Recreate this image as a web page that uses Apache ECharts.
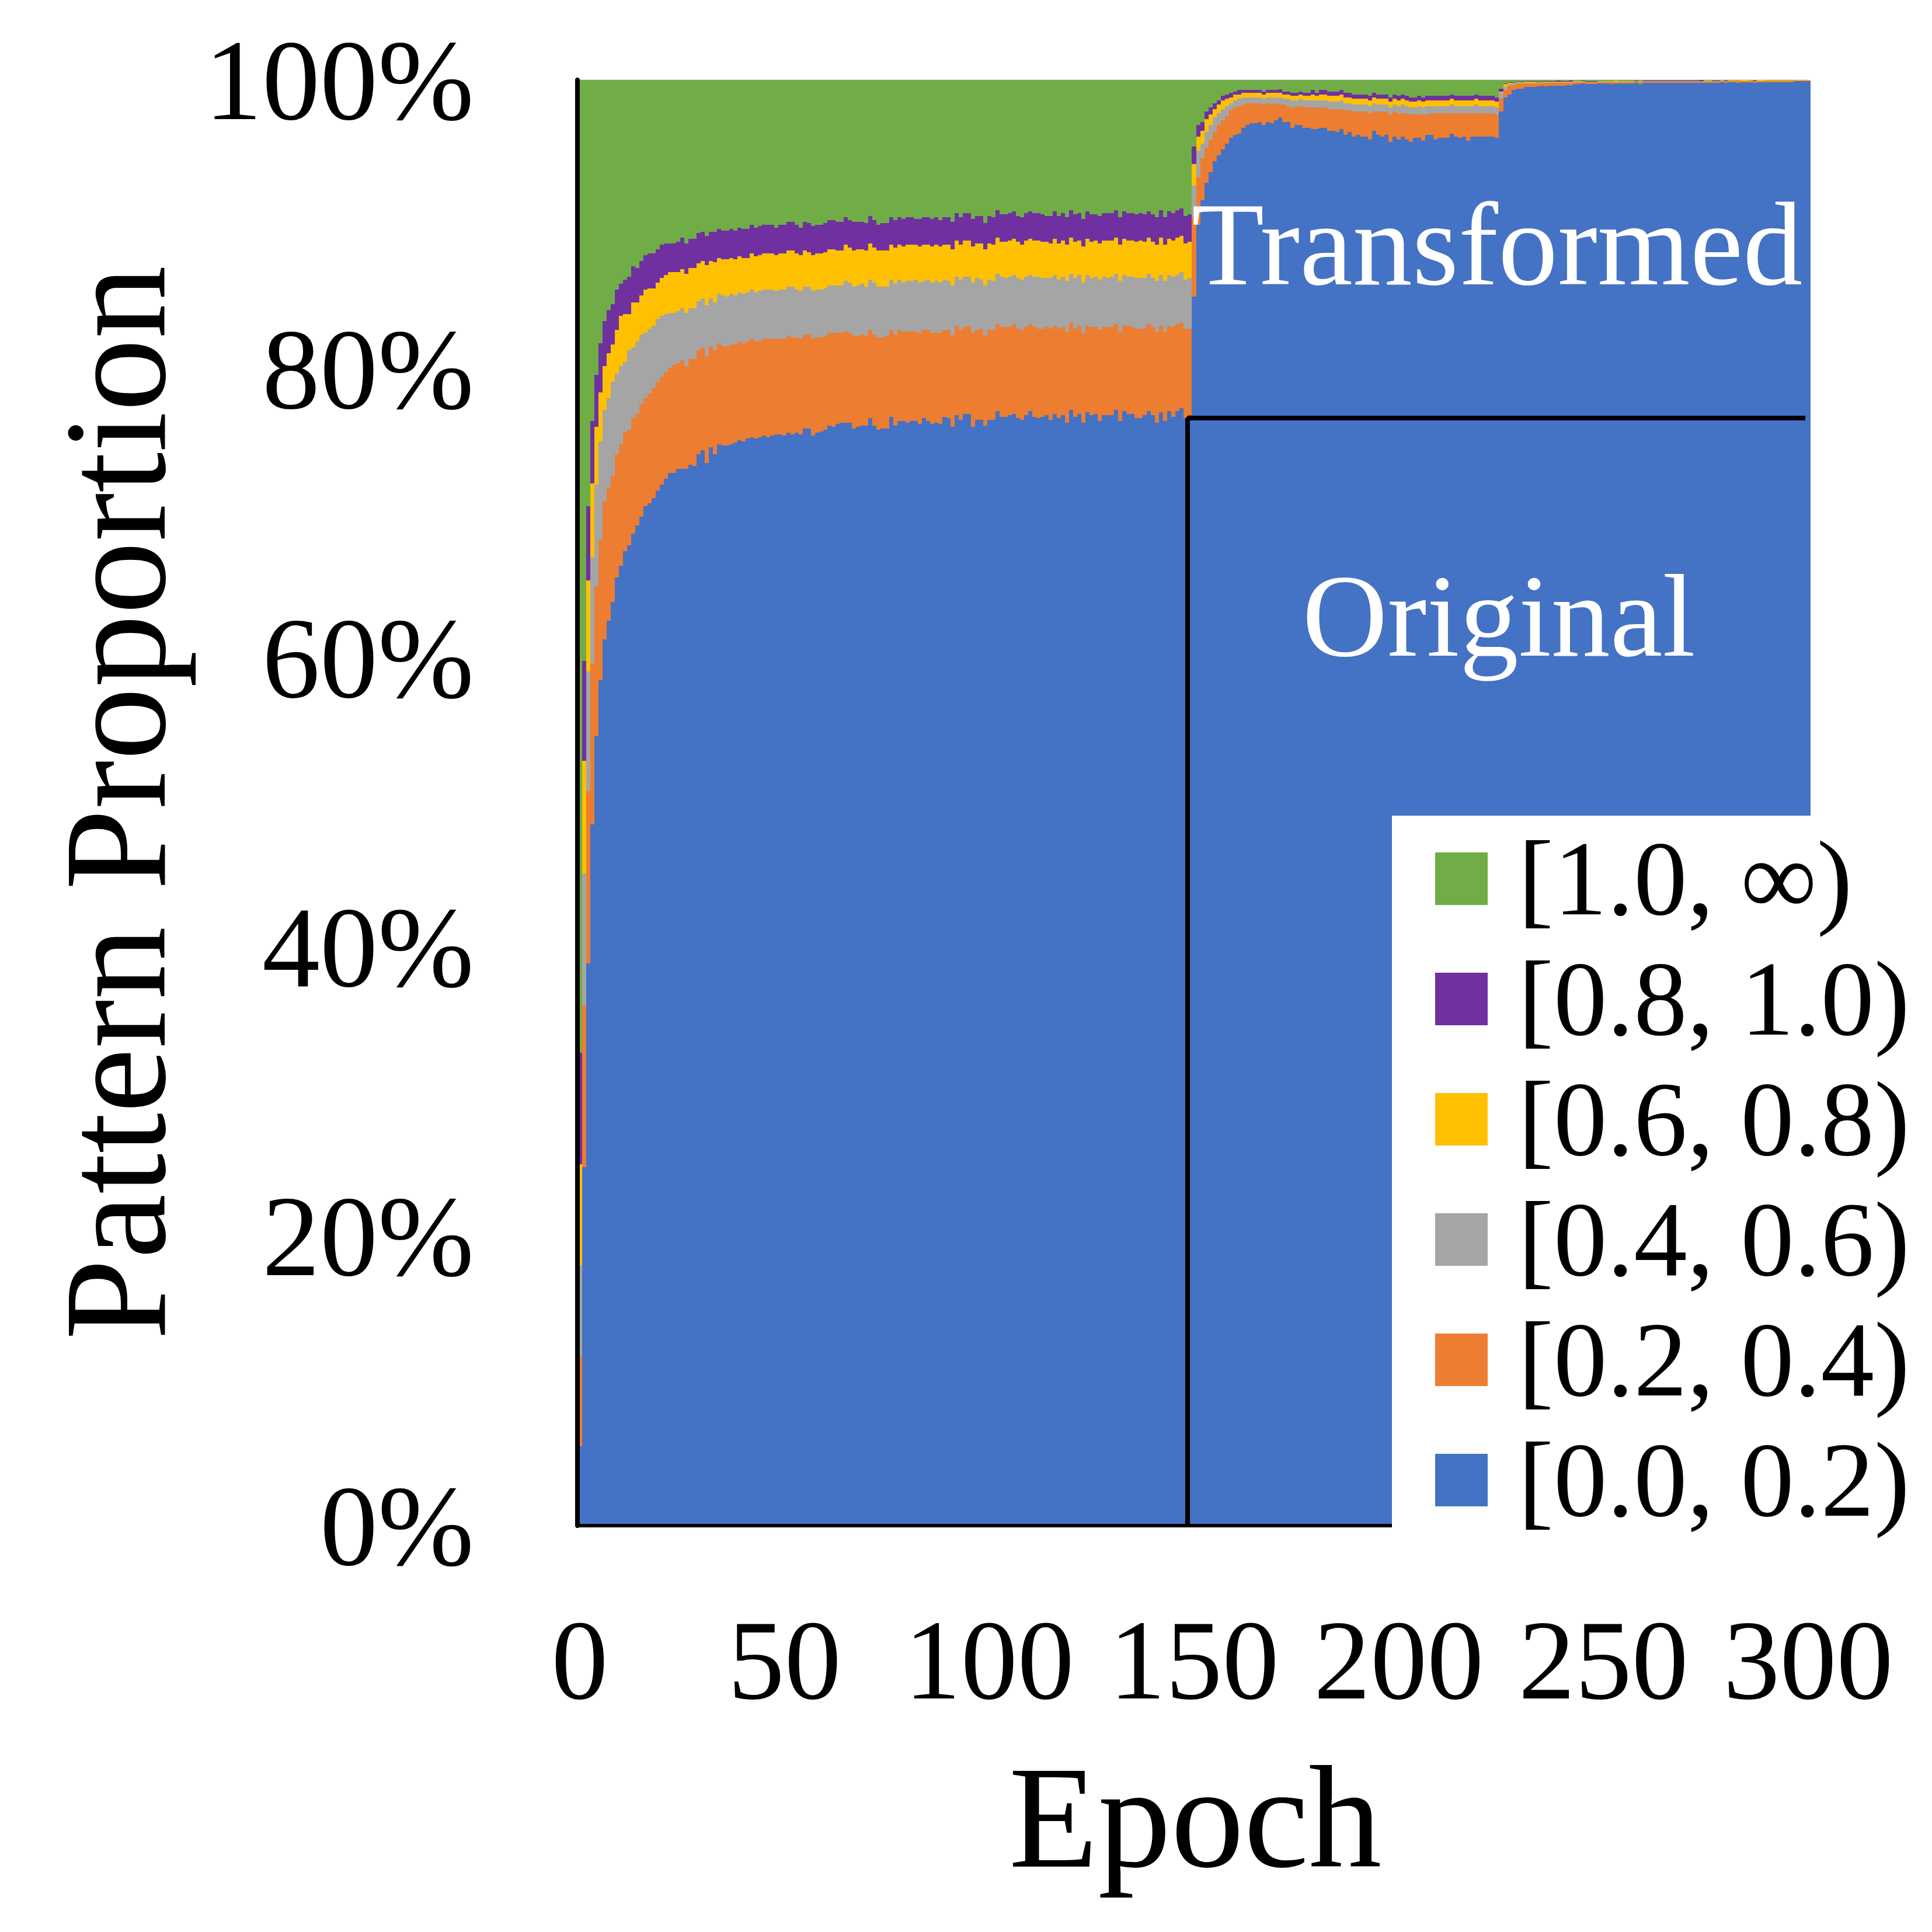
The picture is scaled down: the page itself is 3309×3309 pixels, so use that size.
<!DOCTYPE html>
<html>
<head>
<meta charset="utf-8">
<title>Pattern Proportion</title>
<script src="https://cdn.jsdelivr.net/npm/echarts@6/dist/echarts.min.js"></script>
<style>
  html, body { margin: 0; padding: 0; background: #fff; }
  #chart { width: 3309px; height: 3309px; }
  #chart svg path { shape-rendering: crispEdges; }
</style>
</head>
<body>
<div id="chart"></div>
<script>
// share of patterns in each bin (%) for epochs 0..300
const binNames = ["[0.0, 0.2)", "[0.2, 0.4)", "[0.4, 0.6)", "[0.6, 0.8)", "[0.8, 1.0)", "[1.0, \u221e)"];
const binColors = ["#4472C4", "#ED7D31", "#A5A5A5", "#FFC000", "#7030A0", "#70AD47"];

const epochs = Array.from({ length: 301 }, (_, i) => i);
const xTicks = [0, 50, 100, 150, 200, 250, 300];
const yTicks = [0, 20, 40, 60, 80, 100];

const bin00 = [
  5.5, 24.8, 38.9, 48.5, 54.6, 58.5, 61.3, 62.6, 63.9, 65.6,
  66.4, 67.4, 67.8, 68.6, 69.2, 69.8, 70.5, 70.7, 71.1, 71.6,
  72.0, 72.4, 72.8, 72.8, 73.1, 73.1, 73.1, 73.4, 73.3, 74.1,
  74.4, 73.5, 74.6, 74.1, 74.8, 74.7, 74.7, 74.8, 74.9, 75.1,
  75.0, 75.2, 75.3, 75.2, 75.3, 75.4, 75.3, 75.4, 75.5, 75.5,
  75.4, 75.6, 75.5, 75.6, 75.5, 75.9, 75.9, 75.4, 75.6, 75.7,
  75.8, 76.1, 76.0, 76.2, 76.3, 76.3, 76.3, 75.9, 76.0, 76.1,
  76.1, 76.6, 76.1, 75.8, 75.9, 75.9, 76.7, 76.1, 76.4, 76.4,
  76.3, 76.4, 76.4, 76.2, 76.6, 76.4, 76.2, 76.3, 76.2, 76.7,
  76.6, 76.0, 76.8, 76.5, 76.9, 76.9, 76.0, 76.5, 76.5, 76.1,
  76.5, 76.5, 77.1, 76.7, 76.7, 76.8, 76.9, 76.6, 76.5, 76.8,
  77.1, 76.7, 76.6, 76.7, 76.8, 76.5, 76.9, 76.6, 76.8, 76.3,
  77.2, 76.7, 76.9, 76.3, 77.0, 76.8, 76.9, 76.4, 76.8, 76.8,
  76.8, 77.2, 76.4, 77.1, 76.9, 76.9, 76.6, 76.6, 76.8, 77.1,
  76.8, 76.3, 77.0, 76.4, 77.1, 76.7, 77.1, 77.3, 76.6, 76.8,
  85.0, 90.0, 91.7, 92.9, 93.6, 94.4, 94.8, 95.2, 95.6, 96.0,
  96.2, 96.3, 96.7, 96.9, 97.0, 97.0, 97.1, 96.9, 97.1, 97.0,
  97.2, 97.4, 97.1, 97.1, 96.7, 96.9, 96.9, 96.7, 96.7, 96.6,
  96.6, 96.7, 96.7, 96.5, 96.5, 96.4, 96.6, 96.2, 96.4, 96.1,
  96.2, 96.1, 96.1, 95.9, 96.5, 96.2, 96.1, 96.2, 95.7, 96.1,
  95.9, 96.1, 95.9, 95.7, 96.0, 96.0, 95.8, 96.2, 96.2, 95.9,
  96.0, 96.0, 96.0, 96.3, 96.1, 96.0, 96.1, 95.8, 96.1, 96.1,
  96.1, 96.1, 96.1, 96.1, 96.0, 97.8, 98.8, 99.0, 99.3, 99.4,
  99.4, 99.5, 99.5, 99.5, 99.55, 99.6, 99.55, 99.6, 99.6, 99.6,
  99.6, 99.65, 99.65, 99.7, 99.7, 99.75, 99.7, 99.7, 99.7, 99.75,
  99.75, 99.75, 99.7, 99.75, 99.75, 99.75, 99.75, 99.75, 99.8, 99.7,
  99.8, 99.8, 99.8, 99.8, 99.8, 99.8, 99.8, 99.8, 99.8, 99.8,
  99.8, 99.8, 99.8, 99.8, 99.8, 99.8, 99.8, 99.8, 99.8, 99.85,
  99.8, 99.85, 99.85, 99.8, 99.85, 99.85, 99.85, 99.8, 99.85, 99.85,
  99.85, 99.85, 99.85, 99.85, 99.85, 99.85, 99.85, 99.9, 99.9, 99.9,
  99.9
];

const bin02 = [
  6.2, 11.2, 11.9, 11.1, 10.4, 9.7, 9.6, 9.2, 8.7, 8.5,
  8.4, 8.2, 8.0, 8.0, 7.7, 7.8, 7.5, 7.6, 7.6, 7.5,
  7.5, 7.4, 7.3, 7.5, 7.3, 7.5, 7.1, 7.3, 7.4, 7.2,
  7.1, 7.4, 7.0, 7.2, 7.0, 6.9, 6.9, 6.9, 6.8, 6.8,
  6.8, 6.7, 6.8, 6.7, 6.7, 6.7, 6.8, 6.7, 6.6, 6.6,
  6.7, 6.7, 6.7, 6.6, 6.6, 6.5, 6.5, 6.7, 6.6, 6.5,
  6.5, 6.4, 6.5, 6.3, 6.2, 6.3, 6.2, 6.4, 6.3, 6.3,
  6.2, 6.1, 6.3, 6.4, 6.3, 6.4, 6.0, 6.3, 6.3, 6.2,
  6.3, 6.2, 6.2, 6.3, 6.1, 6.3, 6.3, 6.2, 6.3, 6.0,
  6.1, 6.3, 6.2, 6.2, 6.0, 6.1, 6.5, 6.2, 6.3, 6.2,
  6.2, 6.2, 6.0, 6.2, 6.2, 6.1, 6.2, 6.2, 6.2, 6.1,
  6.0, 6.2, 6.2, 6.1, 6.1, 6.3, 6.1, 6.2, 6.1, 6.3,
  6.0, 6.1, 6.1, 6.2, 6.0, 6.1, 6.0, 6.3, 6.1, 6.1,
  6.1, 5.9, 6.2, 5.9, 6.1, 6.0, 6.2, 6.2, 6.0, 6.0,
  6.1, 6.3, 6.0, 6.2, 5.9, 6.2, 6.0, 5.9, 6.2, 6.0,
  5.5, 3.3, 2.9, 2.4, 2.3, 2.0, 2.1, 2.0, 1.9, 1.9,
  1.9, 1.9, 1.6, 1.5, 1.4, 1.4, 1.3, 1.4, 1.3, 1.3,
  1.2, 0.9, 1.2, 1.1, 1.4, 1.3, 1.3, 1.4, 1.4, 1.5,
  1.5, 1.4, 1.4, 1.5, 1.5, 1.6, 1.4, 1.7, 1.5, 1.7,
  1.6, 1.7, 1.7, 1.8, 1.3, 1.6, 1.7, 1.6, 1.9, 1.7,
  1.8, 1.6, 1.8, 1.9, 1.6, 1.6, 1.8, 1.4, 1.5, 1.8,
  1.7, 1.7, 1.7, 1.4, 1.6, 1.7, 1.6, 1.9, 1.6, 1.6,
  1.6, 1.6, 1.6, 1.6, 1.6, 0.9, 0.5, 0.6, 0.35, 0.35,
  0.3, 0.25, 0.25, 0.25, 0.2, 0.2, 0.25, 0.2, 0.2, 0.2,
  0.2, 0.15, 0.15, 0.12, 0.12, 0.1, 0.12, 0.12, 0.12, 0.1,
  0.1, 0.1, 0.12, 0.1, 0.1, 0.1, 0.1, 0.1, 0.08, 0.15,
  0.08, 0.08, 0.08, 0.08, 0.08, 0.08, 0.08, 0.08, 0.08, 0.08,
  0.08, 0.08, 0.08, 0.08, 0.08, 0.08, 0.08, 0.08, 0.08, 0.06,
  0.08, 0.06, 0.06, 0.1, 0.06, 0.06, 0.06, 0.08, 0.06, 0.06,
  0.06, 0.06, 0.06, 0.06, 0.06, 0.06, 0.06, 0.04, 0.04, 0.04,
  0.04
];

const bin04 = [
  6.3, 9.1, 8.3, 7.4, 7.0, 6.8, 6.3, 6.2, 6.5, 5.6,
  5.4, 4.9, 5.5, 4.9, 5.0, 4.8, 4.5, 4.5, 4.3, 4.4,
  4.2, 4.0, 3.8, 3.6, 3.6, 3.6, 3.7, 3.5, 3.5, 3.4,
  3.4, 3.5, 3.3, 3.3, 3.4, 3.5, 3.4, 3.5, 3.4, 3.4,
  3.4, 3.4, 3.4, 3.4, 3.4, 3.4, 3.4, 3.4, 3.3, 3.4,
  3.4, 3.4, 3.5, 3.3, 3.3, 3.3, 3.3, 3.3, 3.3, 3.3,
  3.3, 3.3, 3.3, 3.3, 3.3, 3.5, 3.5, 3.4, 3.5, 3.5,
  3.4, 3.5, 3.6, 3.5, 3.5, 3.4, 3.5, 3.5, 3.5, 3.4,
  3.5, 3.5, 3.6, 3.5, 3.4, 3.5, 3.5, 3.6, 3.5, 3.5,
  3.4, 3.5, 3.4, 3.5, 3.5, 3.4, 3.5, 3.6, 3.4, 3.5,
  3.5, 3.4, 3.5, 3.5, 3.4, 3.5, 3.4, 3.5, 3.5, 3.5,
  3.4, 3.5, 3.6, 3.5, 3.4, 3.5, 3.5, 3.4, 3.5, 3.5,
  3.4, 3.5, 3.5, 3.5, 3.5, 3.4, 3.5, 3.5, 3.5, 3.4,
  3.5, 3.5, 3.5, 3.5, 3.4, 3.5, 3.5, 3.5, 3.5, 3.5,
  3.4, 3.5, 3.5, 3.5, 3.5, 3.5, 3.4, 3.5, 3.4, 3.5,
  2.2, 1.8, 1.0, 1.1, 1.0, 1.0, 0.8, 0.8, 0.7, 0.5,
  0.5, 0.5, 0.5, 0.4, 0.4, 0.4, 0.4, 0.4, 0.4, 0.5,
  0.4, 0.5, 0.4, 0.5, 0.5, 0.4, 0.5, 0.5, 0.5, 0.5,
  0.5, 0.5, 0.5, 0.5, 0.5, 0.5, 0.6, 0.5, 0.5, 0.5,
  0.5, 0.5, 0.5, 0.5, 0.6, 0.5, 0.5, 0.5, 0.5, 0.5,
  0.5, 0.6, 0.5, 0.5, 0.5, 0.6, 0.5, 0.6, 0.5, 0.5,
  0.5, 0.5, 0.5, 0.6, 0.5, 0.5, 0.5, 0.5, 0.5, 0.6,
  0.5, 0.5, 0.5, 0.5, 0.5, 0.4, 0.2, 0.1, 0.1, 0.08,
  0.08, 0.06, 0.06, 0.06, 0.06, 0.05, 0.05, 0.05, 0.05, 0.05,
  0.05, 0.05, 0.05, 0.05, 0.05, 0.04, 0.04, 0.04, 0.04, 0.04,
  0.04, 0.04, 0.04, 0.04, 0.04, 0.03, 0.03, 0.03, 0.03, 0.03,
  0.03, 0.03, 0.03, 0.03, 0.03, 0.03, 0.03, 0.03, 0.03, 0.03,
  0.03, 0.03, 0.03, 0.03, 0.03, 0.02, 0.02, 0.02, 0.02, 0.02,
  0.02, 0.02, 0.02, 0.02, 0.02, 0.02, 0.02, 0.02, 0.02, 0.02,
  0.02, 0.02, 0.02, 0.02, 0.02, 0.02, 0.02, 0.02, 0.02, 0.02,
  0.02
];

const bin06 = [
  7.0, 7.8, 6.3, 5.1, 4.0, 3.4, 3.0, 3.1, 2.6, 3.0,
  3.5, 3.3, 2.5, 3.1, 2.7, 2.7, 3.0, 2.8, 2.6, 2.5,
  2.6, 2.7, 2.8, 2.8, 2.7, 2.7, 2.7, 2.8, 2.8, 2.6,
  2.6, 2.8, 2.6, 2.8, 2.5, 2.5, 2.6, 2.5, 2.5, 2.5,
  2.5, 2.4, 2.5, 2.5, 2.5, 2.5, 2.5, 2.5, 2.5, 2.5,
  2.5, 2.5, 2.5, 2.5, 2.5, 2.5, 2.4, 2.5, 2.5, 2.5,
  2.5, 2.5, 2.5, 2.4, 2.4, 2.5, 2.4, 2.5, 2.5, 2.4,
  2.5, 2.5, 2.4, 2.5, 2.5, 2.5, 2.4, 2.5, 2.4, 2.5,
  2.5, 2.5, 2.4, 2.5, 2.5, 2.4, 2.5, 2.5, 2.5, 2.4,
  2.5, 2.5, 2.5, 2.4, 2.5, 2.5, 2.5, 2.4, 2.5, 2.5,
  2.5, 2.5, 2.5, 2.4, 2.5, 2.5, 2.5, 2.5, 2.4, 2.5,
  2.5, 2.5, 2.5, 2.5, 2.5, 2.4, 2.5, 2.5, 2.5, 2.5,
  2.5, 2.5, 2.4, 2.5, 2.5, 2.5, 2.5, 2.5, 2.5, 2.6,
  2.5, 2.5, 2.5, 2.5, 2.5, 2.5, 2.5, 2.6, 2.5, 2.5,
  2.5, 2.5, 2.6, 2.5, 2.5, 2.5, 2.6, 2.5, 2.5, 2.5,
  1.5, 1.0, 0.9, 0.9, 0.7, 0.6, 0.6, 0.6, 0.5, 0.4,
  0.4, 0.3, 0.3, 0.3, 0.3, 0.3, 0.3, 0.3, 0.3, 0.3,
  0.3, 0.3, 0.3, 0.3, 0.3, 0.3, 0.3, 0.3, 0.3, 0.4,
  0.3, 0.4, 0.4, 0.4, 0.4, 0.4, 0.4, 0.4, 0.4, 0.4,
  0.4, 0.4, 0.4, 0.4, 0.4, 0.4, 0.4, 0.4, 0.4, 0.4,
  0.4, 0.4, 0.4, 0.4, 0.4, 0.4, 0.4, 0.4, 0.4, 0.4,
  0.4, 0.4, 0.4, 0.4, 0.4, 0.4, 0.4, 0.4, 0.4, 0.4,
  0.4, 0.4, 0.4, 0.4, 0.4, 0.1, 0.2, 0.1, 0.05, 0.05,
  0.05, 0.05, 0.05, 0.05, 0.04, 0.04, 0.03, 0.03, 0.03, 0.03,
  0.03, 0.03, 0.03, 0.03, 0.03, 0.03, 0.02, 0.02, 0.02, 0.02,
  0.02, 0.02, 0.05, 0.05, 0.02, 0.02, 0.02, 0.02, 0.02, 0.02,
  0.02, 0.02, 0.02, 0.02, 0.02, 0.02, 0.02, 0.02, 0.02, 0.02,
  0.02, 0.02, 0.02, 0.02, 0.02, 0.05, 0.05, 0.02, 0.02, 0.02,
  0.02, 0.02, 0.02, 0.02, 0.05, 0.05, 0.02, 0.02, 0.05, 0.05,
  0.02, 0.02, 0.02, 0.02, 0.02, 0.02, 0.02, 0.02, 0.02, 0.02,
  0.02
];

const bin08 = [
  7.7, 6.9, 5.1, 4.3, 3.6, 3.4, 3.1, 3.0, 2.8, 2.8,
  2.2, 2.4, 2.6, 2.5, 2.4, 2.4, 2.4, 2.4, 2.4, 2.3,
  2.3, 2.2, 2.0, 2.0, 2.1, 2.2, 2.1, 2.0, 2.0, 2.1,
  2.0, 2.0, 2.0, 2.1, 2.0, 2.0, 2.0, 2.0, 2.0, 2.0,
  2.0, 2.0, 2.0, 2.0, 2.0, 2.0, 2.0, 2.0, 1.9, 2.0,
  2.0, 2.0, 2.0, 2.0, 1.9, 2.0, 2.0, 2.0, 2.0, 2.0,
  2.0, 2.0, 2.0, 2.0, 2.0, 1.9, 1.9, 2.0, 1.9, 1.9,
  1.9, 1.9, 1.9, 1.8, 1.9, 1.9, 1.9, 1.9, 1.9, 1.9,
  1.9, 1.9, 1.8, 1.9, 1.9, 1.9, 1.9, 1.9, 1.8, 1.9,
  1.9, 1.9, 1.9, 1.9, 1.9, 1.9, 1.9, 1.9, 1.9, 1.8,
  1.9, 1.9, 1.9, 1.9, 1.9, 1.9, 1.9, 1.8, 1.9, 1.9,
  1.9, 1.9, 1.9, 1.9, 1.8, 1.9, 1.9, 1.9, 1.9, 1.9,
  1.9, 1.9, 1.9, 1.9, 1.9, 1.9, 1.8, 1.9, 1.9, 1.9,
  1.9, 1.9, 1.9, 1.9, 1.9, 1.9, 1.9, 1.9, 1.9, 1.8,
  1.9, 1.9, 1.9, 1.9, 1.9, 1.9, 1.9, 1.9, 1.9, 1.9,
  1.2, 0.8, 0.6, 0.5, 0.5, 0.4, 0.3, 0.3, 0.3, 0.3,
  0.2, 0.3, 0.2, 0.2, 0.2, 0.2, 0.2, 0.2, 0.2, 0.2,
  0.2, 0.25, 0.2, 0.2, 0.2, 0.2, 0.2, 0.2, 0.2, 0.3,
  0.2, 0.3, 0.3, 0.3, 0.3, 0.3, 0.3, 0.3, 0.3, 0.3,
  0.3, 0.3, 0.3, 0.3, 0.3, 0.3, 0.3, 0.3, 0.3, 0.3,
  0.3, 0.3, 0.3, 0.3, 0.3, 0.3, 0.3, 0.3, 0.3, 0.3,
  0.3, 0.3, 0.3, 0.3, 0.3, 0.3, 0.3, 0.3, 0.3, 0.3,
  0.3, 0.3, 0.3, 0.3, 0.3, 0.2, 0.05, 0.05, 0.05, 0.04,
  0.04, 0.04, 0.06, 0.04, 0.04, 0.03, 0.03, 0.03, 0.03, 0.06,
  0.03, 0.03, 0.06, 0.03, 0.03, 0.02, 0.02, 0.02, 0.02, 0.02,
  0.02, 0.02, 0.02, 0.02, 0.02, 0.02, 0.02, 0.02, 0.02, 0.02,
  0.02, 0.02, 0.02, 0.02, 0.02, 0.02, 0.02, 0.02, 0.02, 0.02,
  0.02, 0.02, 0.02, 0.02, 0.06, 0.02, 0.02, 0.02, 0.02, 0.02,
  0.02, 0.02, 0.02, 0.02, 0.02, 0.02, 0.02, 0.02, 0.02, 0.02,
  0.02, 0.02, 0.02, 0.02, 0.02, 0.02, 0.02, 0.02, 0.02, 0.02,
  0.02
];

// everything else falls in [1.0, inf)
const bin10 = epochs.map((_, i) =>
  Math.max(0, +(100 - bin00[i] - bin02[i] - bin04[i] - bin06[i] - bin08[i]).toFixed(2))
);

// boundary between original and transformed patterns
const splitEpoch = 148.4;
const splitLevel = 76.6;
const splitEnd = 299.3;
const splitLine = [[splitEpoch, 0], [splitEpoch, splitLevel], [splitEnd, splitLevel]];

const serif = '"Liberation Serif", "Times New Roman", serif';
const chart = echarts.init(document.getElementById("chart"), null, { renderer: "svg" });

const binData = [bin00, bin02, bin04, bin06, bin08, bin10];
const barSeries = binNames.map((name, k) => ({
  name: name,
  type: "bar",
  stack: "total",
  xAxisIndex: 0,
  yAxisIndex: 0,
  barCategoryGap: "0%",
  data: binData[k],
  itemStyle: { color: binColors[k], borderWidth: 0 },
  emphasis: { disabled: true },
}));

const yRange = {
  type: "value",
  position: "left",
  min: yTicks[0],
  max: yTicks[yTicks.length - 1],
  interval: yTicks[1] - yTicks[0],
};

const option = {
  animation: false,
  backgroundColor: "#fff",
  grid: { left: 993, right: 212, top: 137, bottom: 696, containLabel: false },
  xAxis: [
    {
      type: "category",
      data: epochs,
      show: false,
      boundaryGap: false,
    },
    {
      type: "value",
      position: "bottom",
      z: 10,
      min: xTicks[0],
      max: xTicks[xTicks.length - 1],
      interval: xTicks[1] - xTicks[0],
      axisLine: { show: true, lineStyle: { color: "#000", width: 6 } },
      axisTick: { show: false },
      splitLine: { show: false },
      axisLabel: { color: "#000", fontFamily: serif, fontSize: 194, margin: 133 },
    },
  ],
  yAxis: [
    // gridlines under the bars
    Object.assign({}, yRange, {
      axisLine: { show: false },
      axisTick: { show: false },
      axisLabel: { show: false },
      splitLine: { show: true, lineStyle: { color: "#d9d9d9", width: 3 } },
    }),
    // axis line and labels above the bars
    Object.assign({}, yRange, {
      z: 10,
      offset: 4,
      axisLine: { show: true, onZero: false, lineStyle: { color: "#000", width: 8 } },
      axisTick: { show: false },
      splitLine: { show: false },
      axisLabel: { formatter: "{value}%", color: "#000", fontFamily: serif, fontSize: 198, margin: 177 },
    }),
  ],
  legend: {
    orient: "vertical",
    left: 2384,
    top: 1397,
    z: 12,
    backgroundColor: "#fff",
    padding: [16, 40, 6, 74],
    itemWidth: 90,
    itemHeight: 90,
    itemGap: 23,
    icon: "rect",
    selectedMode: false,
    data: binNames.slice().reverse(),
    textStyle: { color: "#000", fontFamily: serif, fontSize: 183, lineHeight: 182, padding: [0, 0, 0, 47] },
  },
  graphic: [
    {
      type: "text", x: 2564, y: 418, z: 20,
      style: { text: "Transformed", fill: "#fff", font: "204px " + serif, align: "center", verticalAlign: "middle" },
    },
    {
      type: "text", x: 2567, y: 1055, z: 20,
      style: { text: "Original", fill: "#fff", font: "202px " + serif, align: "center", verticalAlign: "middle" },
    },
    {
      type: "text", x: 2047, y: 3112, z: 20,
      style: { text: "Epoch", fill: "#000", font: "250px " + serif, align: "center", verticalAlign: "middle" },
    },
    {
      type: "text", x: 197, y: 1375, rotation: Math.PI / 2, z: 20,
      style: { text: "Pattern Proportion", fill: "#000", font: "250px " + serif, align: "center", verticalAlign: "middle" },
    },
  ],
  series: barSeries.concat([
    {
      name: "split",
      type: "line",
      xAxisIndex: 1,
      yAxisIndex: 0,
      data: splitLine,
      symbol: "none",
      z: 5,
      clip: false,
      lineStyle: { color: "#000", width: 8 },
      emphasis: { disabled: true },
      silent: true,
    },
  ]),
};

chart.setOption(option);
</script>
</body>
</html>
